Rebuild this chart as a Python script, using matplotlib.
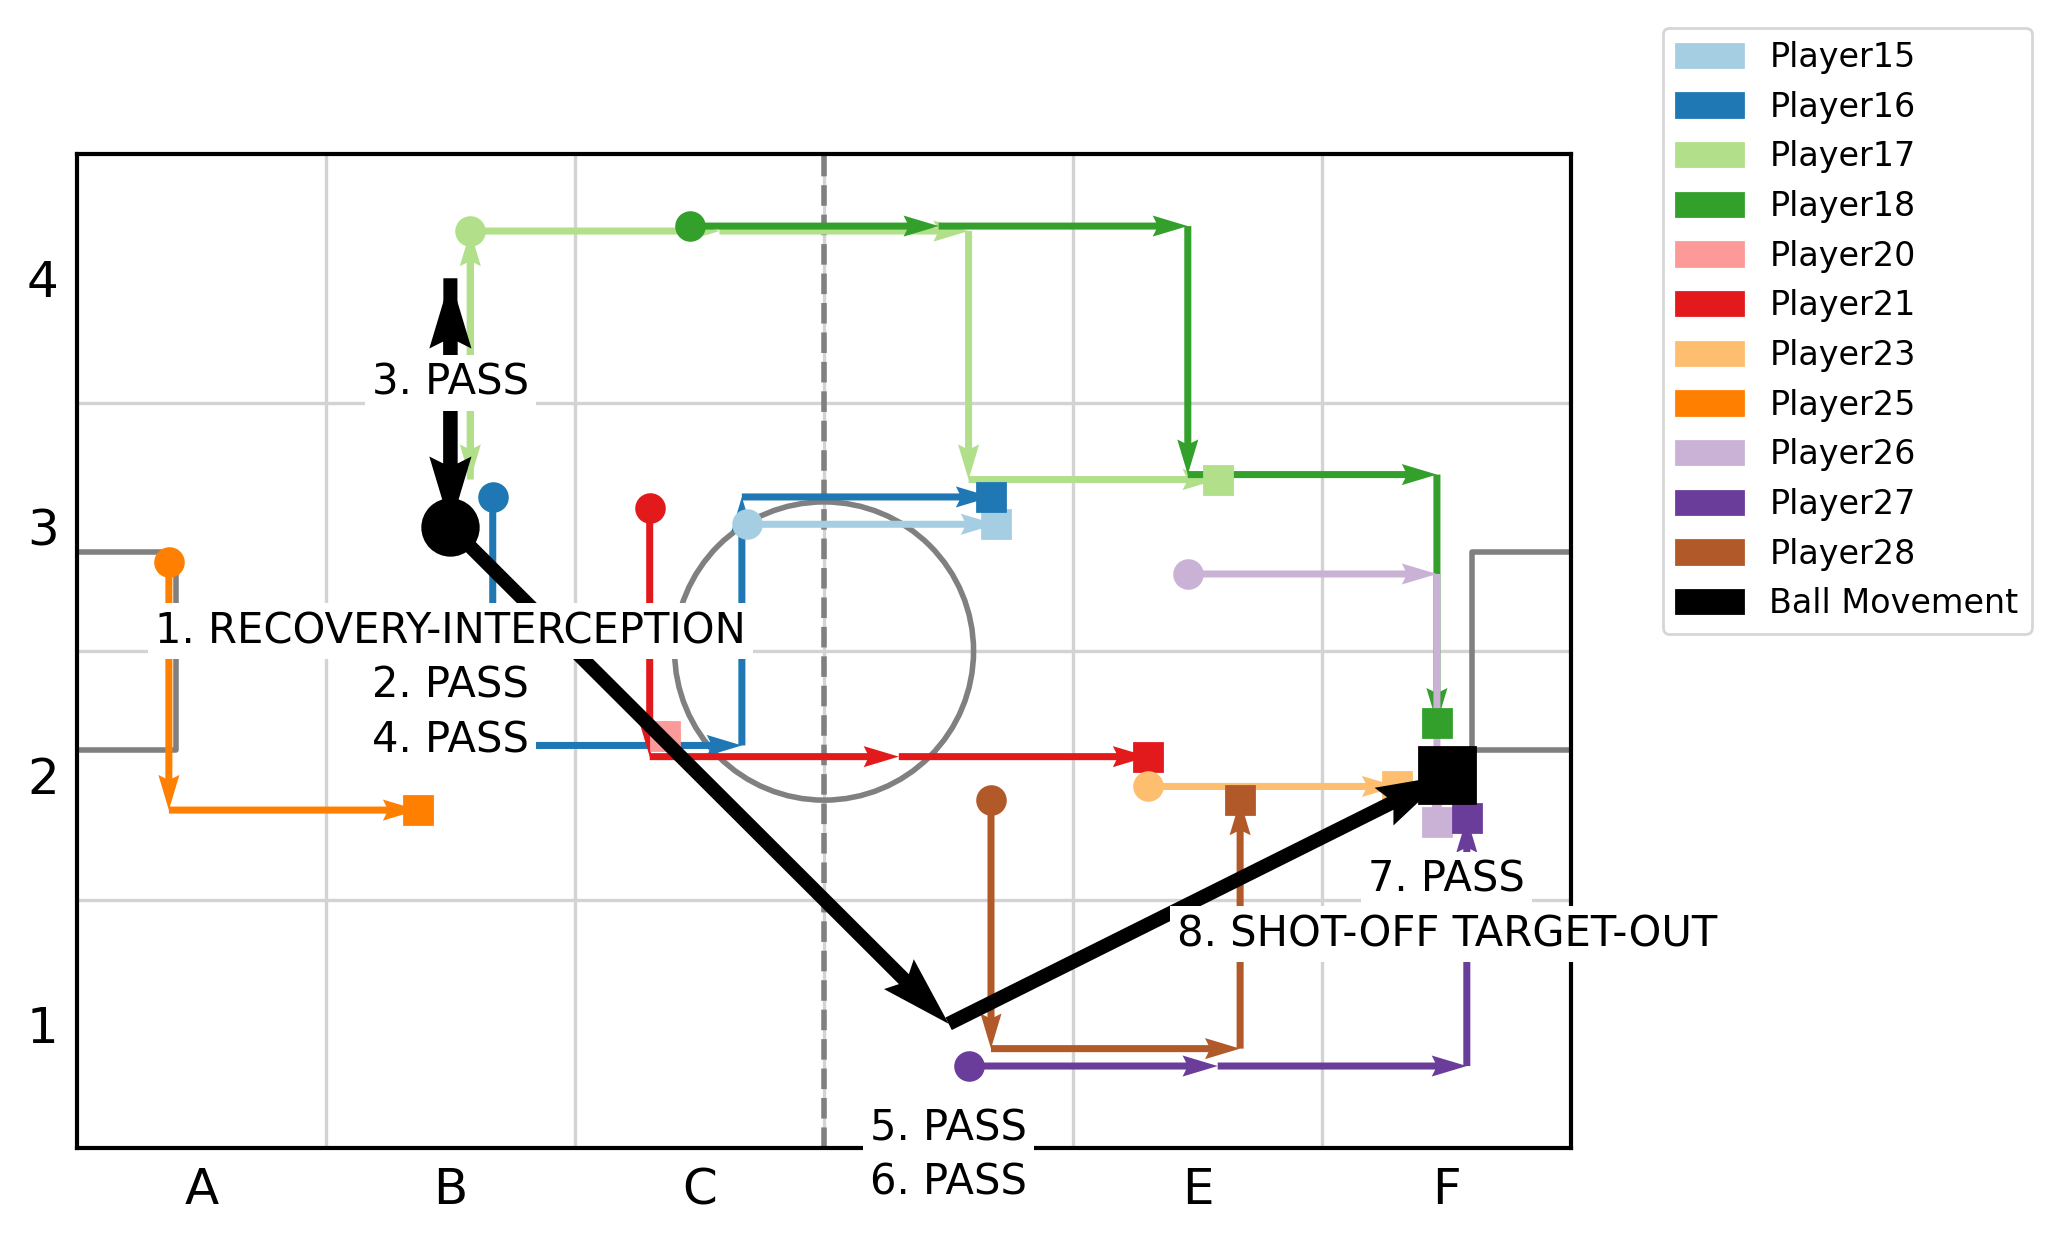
import matplotlib.pyplot as plt
import matplotlib.patches as mpatches
import numpy as np

# players shown in the legend, with their colours
players = ['Player15', 'Player16', 'Player17', 'Player18', 'Player20', 'Player21',
           'Player23', 'Player25', 'Player26', 'Player27', 'Player28']
colors = ['#a6cee3', '#1f78b4', '#b2df8a', '#33a02c', '#fb9a99', '#e31a1c',
          '#fdbf6f', '#ff7f00', '#cab2d6', '#6a3d9a', '#b15928']

# zones visited by each player (column A=1 .. F=6, row 1..4)
path_cols = {
    'Player15': [3, 4],
    'Player16': [2, 2, 3, 3, 4],
    'Player17': [2, 2, 2, 3, 4, 4, 5],
    'Player18': [3, 4, 5, 5, 6, 6],
    'Player20': [3],
    'Player21': [3, 3, 4, 5],
    'Player23': [5, 6],
    'Player25': [1, 1, 2],
    'Player26': [5, 6, 6],
    'Player27': [4, 5, 6, 6],
    'Player28': [4, 4, 5, 5],
}
path_rows = {
    'Player15': [3, 3],
    'Player16': [3, 2, 2, 3, 3],
    'Player17': [4, 3, 4, 4, 4, 3, 3],
    'Player18': [4, 4, 4, 3, 3, 2],
    'Player20': [2],
    'Player21': [3, 2, 2, 2],
    'Player23': [2, 2],
    'Player25': [3, 2, 2],
    'Player26': [3, 3, 2],
    'Player27': [1, 1, 1, 2],
    'Player28': [2, 1, 1, 2],
}
# small shift inside the zone so players don't sit on top of each other
offsets = {
    'Player15': (0.19, 0.01),
    'Player16': (0.17, 0.12),
    'Player17': (0.08, 0.19),
    'Player18': (-0.04, 0.21),
    'Player20': (-0.14, 0.16),
    'Player21': (-0.20, 0.075),
    'Player23': (-0.20, -0.045),
    'Player25': (-0.13, -0.14),
    'Player26': (-0.04, -0.19),
    'Player27': (0.08, -0.17),
    'Player28': (0.17, -0.10),
}

# ball events
ball_cols = [2, 2, 2, 2, 4, 4, 6, 6]
ball_rows = [3, 3, 4, 3, 1, 1, 2, 2]
ball_events = ['RECOVERY-INTERCEPTION', 'PASS', 'PASS', 'PASS',
               'PASS', 'PASS', 'PASS', 'SHOT-OFF TARGET-OUT']

col_labels = ['A', 'B', 'C', 'D', 'E', 'F']
row_labels = ['1', '2', '3', '4']

fig = plt.figure(figsize=(10.31, 6.215), dpi=200)
ax = fig.add_axes([0.0372, 0.0764, 0.7249, 0.7997])

# pitch markings
ax.axvline(3.5, color='gray', ls='--', lw=2, zorder=0.9)
ax.add_patch(plt.Circle((3.5, 2.5), 0.6, fill=False, color='gray', lw=2, zorder=0.9))
ax.plot([0.5, 0.9, 0.9, 0.5], [2.9, 2.9, 2.1, 2.1], color='gray', lw=2, zorder=0.9)
ax.plot([6.5, 6.1, 6.1, 6.5], [2.9, 2.9, 2.1, 2.1], color='gray', lw=2, zorder=0.9)

# player movements
for name, c in zip(players, colors):
    x = np.array(path_cols[name], dtype=float) + offsets[name][0]
    y = np.array(path_rows[name], dtype=float) + offsets[name][1]
    if len(x) > 1:
        ax.quiver(x[:-1], y[:-1], np.diff(x), np.diff(y), angles='xy',
                  scale_units='xy', scale=1, color=c, width=0.0047, zorder=1.5)
    ax.plot(x[0], y[0], 'o', color=c, ms=10, zorder=2)
    ax.plot(x[-1], y[-1], 's', color=c, ms=10, zorder=2)

# ball movement
bx = np.array(ball_cols, dtype=float)
by = np.array(ball_rows, dtype=float)
dx, dy = np.diff(bx), np.diff(by)
moved = (dx != 0) | (dy != 0)
ax.quiver(bx[:-1][moved], by[:-1][moved], dx[moved], dy[moved], angles='xy',
          scale_units='xy', scale=1, color='black', width=0.0094, zorder=2.5)
ax.plot(bx[0], by[0], 'o', color='black', ms=20, zorder=2.6)
ax.plot(bx[-1], by[-1], 's', color='black', ms=20, zorder=2.6)

seen = {}
for i, (x, y, ev) in enumerate(zip(bx, by, ball_events)):
    k = seen.get((x, y), 0)
    seen[(x, y)] = k + 1
    ax.text(x, y - 0.42 - 0.22 * k, f'{i + 1}. {ev}', ha='center', va='center',
            fontsize=15, zorder=4, clip_on=False,
            bbox=dict(facecolor='white', edgecolor='none', pad=2.5))

ax.set_xlim(0.5, 6.5)
ax.set_ylim(0.5, 4.5)
ax.set_xticks(range(1, 7))
ax.set_xticklabels(col_labels)
ax.set_yticks(range(1, 5))
ax.set_yticklabels(row_labels)
ax.set_xticks(np.arange(1.5, 6, 1), minor=True)
ax.set_yticks(np.arange(1.5, 4, 1), minor=True)
ax.grid(which='minor', color='lightgray', lw=1.2)
ax.set_axisbelow(True)
ax.tick_params(which='both', length=0)
ax.tick_params(labelsize=18, pad=6.5)
for s in ax.spines.values():
    s.set_linewidth(1.5)

handles = [mpatches.Patch(color=c, label=n) for n, c in zip(players, colors)]
handles.append(mpatches.Patch(color='black', label='Ball Movement'))
fig.legend(handles=handles, loc='upper left', bbox_to_anchor=(0.8064, 0.9777),
           borderaxespad=0, fontsize=12)

fig.savefig('out.png', dpi=200)
